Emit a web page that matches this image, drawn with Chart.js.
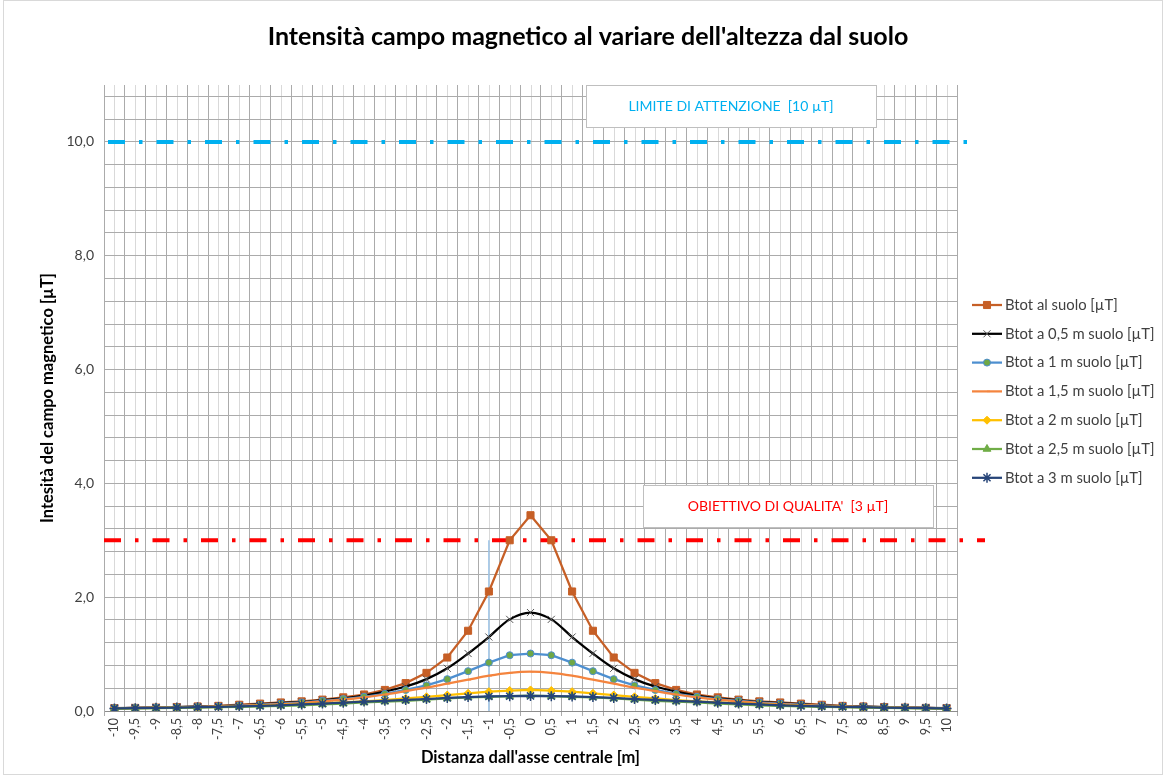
<!DOCTYPE html>
<html>
<head>
<meta charset="utf-8">
<script src="https://cdn.jsdelivr.net/npm/chart.js@4.4.0/dist/chart.umd.min.js"></script>
<style>
  html, body { margin: 0; padding: 0; background: #fff; }
  #wrap { width: 1164px; height: 775px; }
</style>
</head>
<body>
<div id="wrap"><canvas id="campo-canvas" width="1164" height="775"></canvas></div>
<script>
// Distanza dall'asse centrale [m]
const distanze = ["-10","-9,5","-9","-8,5","-8","-7,5","-7","-6,5","-6","-5,5","-5","-4,5","-4","-3,5","-3","-2,5","-2","-1,5","-1","-0,5","0",
  "0,5","1","1,5","2","2,5","3","3,5","4","4,5","5","5,5","6","6,5","7","7,5","8","8,5","9","9,5","10"]

// Btot [µT] per altezza dal suolo
const btotSuolo = [0.05,0.055,0.06,0.07,0.08,0.09,0.11,0.13,0.15,0.17,0.20,0.24,0.29,0.37,0.49,0.67,0.94,1.41,2.10,3.00,3.44,
  3.00,2.10,1.41,0.94,0.67,0.49,0.37,0.29,0.24,0.20,0.17,0.15,0.13,0.11,0.09,0.08,0.07,0.06,0.055,0.05]
const btot05 = [0.05,0.055,0.06,0.068,0.075,0.085,0.10,0.12,0.14,0.16,0.19,0.22,0.27,0.34,0.43,0.56,0.75,1.01,1.30,1.61,1.73,
  1.61,1.30,1.01,0.75,0.56,0.43,0.34,0.27,0.22,0.19,0.16,0.14,0.12,0.10,0.085,0.075,0.068,0.06,0.055,0.05]
const btot1 = [0.05,0.055,0.06,0.066,0.073,0.082,0.095,0.11,0.13,0.15,0.18,0.21,0.25,0.30,0.37,0.45,0.56,0.70,0.85,0.98,1.01,
  0.98,0.85,0.70,0.56,0.45,0.37,0.30,0.25,0.21,0.18,0.15,0.13,0.11,0.095,0.082,0.073,0.066,0.06,0.055,0.05]
const btot15 = [0.05,0.054,0.058,0.064,0.07,0.08,0.09,0.105,0.12,0.14,0.17,0.20,0.24,0.29,0.35,0.41,0.48,0.55,0.62,0.67,0.69,
  0.67,0.62,0.55,0.48,0.41,0.35,0.29,0.24,0.20,0.17,0.14,0.12,0.105,0.09,0.08,0.07,0.064,0.058,0.054,0.05]
const btot2 = [0.045,0.05,0.054,0.06,0.066,0.074,0.083,0.093,0.105,0.12,0.135,0.15,0.17,0.19,0.22,0.25,0.28,0.31,0.34,0.36,0.37,
  0.36,0.34,0.31,0.28,0.25,0.22,0.19,0.17,0.15,0.135,0.12,0.105,0.093,0.083,0.074,0.066,0.06,0.054,0.05,0.045]
const btot25 = [0.04,0.045,0.05,0.055,0.06,0.066,0.074,0.083,0.092,0.10,0.115,0.13,0.15,0.165,0.18,0.20,0.22,0.24,0.25,0.26,0.27,
  0.26,0.25,0.24,0.22,0.20,0.18,0.165,0.15,0.13,0.115,0.10,0.092,0.083,0.074,0.066,0.06,0.055,0.05,0.045,0.04]
const btot3 = [0.045,0.05,0.055,0.06,0.066,0.072,0.08,0.09,0.10,0.115,0.13,0.145,0.165,0.18,0.195,0.21,0.23,0.245,0.255,0.26,0.265,
  0.26,0.255,0.245,0.23,0.21,0.195,0.18,0.165,0.145,0.13,0.115,0.10,0.09,0.08,0.072,0.066,0.06,0.055,0.05,0.045]

// soglie [µT]
const limiteAttenzione = 10
const obiettivoQualita = 3

const FONT = "Lato, 'Open Sans', sans-serif"

function serie(label, data, color, extra) {
  return Object.assign({
    label: label,
    data: data,
    borderColor: color,
    backgroundColor: color,
    pointBackgroundColor: color,
    pointBorderColor: color,
    borderWidth: 2.25,
    pointRadius: 4,
    pointBorderWidth: 1,
    tension: 0,
  }, extra)
}

const datasets = [
  serie("Btot al suolo [µT]", btotSuolo, "#C65F26", { pointStyle: "rect", pointRadius: 5, order: 7 }),
  serie("Btot a 0,5 m suolo [µT]", btot05, "#000000", { pointStyle: "crossRot", pointRadius: 5, pointBorderColor: "#555555", tension: 0.35, order: 6 }),
  serie("Btot a 1 m suolo [µT]", btot1, "#4D8FD0", { pointStyle: "circle", pointRadius: 3.5, pointBackgroundColor: "#6FA845", pointBorderColor: "#4D8FD0", order: 5 }),
  serie("Btot a 1,5 m suolo [µT]", btot15, "#F4843E", { pointStyle: "dash", pointRadius: 3, pointBorderWidth: 1.5, tension: 0.35, order: 4 }),
  serie("Btot a 2 m suolo [µT]", btot2, "#FFC000", { pointStyle: "rectRot", pointRadius: 4, order: 3 }),
  serie("Btot a 2,5 m suolo [µT]", btot25, "#70AD47", { pointStyle: "triangle", pointRadius: 4.5, order: 2 }),
  serie("Btot a 3 m suolo [µT]", btot3, "#264478", { pointStyle: "star", pointRadius: 5, pointBorderWidth: 1.5, order: 1 }),
]

function dashLine(ctx, x0, x1, y, color, width) {
  ctx.save()
  ctx.strokeStyle = color
  ctx.lineWidth = width
  ctx.setLineDash([17, 14, 3.5, 14])
  ctx.beginPath()
  ctx.moveTo(x0, y)
  ctx.lineTo(x1, y)
  ctx.stroke()
  ctx.restore()
}

function textBox(ctx, x, y, w, h, text, color) {
  ctx.save()
  ctx.fillStyle = "#ffffff"
  ctx.fillRect(x, y, w, h)
  ctx.strokeStyle = "#BFBFBF"
  ctx.lineWidth = 1
  ctx.strokeRect(x + 0.5, y + 0.5, w, h)
  ctx.fillStyle = color
  ctx.font = "14px " + FONT
  ctx.textAlign = "center"
  ctx.textBaseline = "middle"
  ctx.fillText(text, x + w / 2, y + h / 2)
  ctx.restore()
}

const decorazioni = {
  id: "decorazioni",
  beforeDraw(chart) {
    const { ctx, chartArea, scales } = chart
    ctx.save()
    ctx.fillStyle = "#ffffff"
    ctx.fillRect(0, 0, chart.width, chart.height)
    // griglia secondaria verticale al centro delle categorie
    ctx.strokeStyle = "#D9D9D9"
    ctx.lineWidth = 1
    for (let i = 0; i < distanze.length; i++) {
      const x = Math.round(scales.x.getPixelForTick(i)) + 0.5
      ctx.beginPath()
      ctx.moveTo(x, chartArea.top)
      ctx.lineTo(x, chartArea.bottom)
      ctx.stroke()
    }
    ctx.restore()
  },
  beforeDatasetsDraw(chart) {
    const { ctx, chartArea, scales } = chart
    const y10 = scales.y.getPixelForValue(limiteAttenzione)
    const y3 = scales.y.getPixelForValue(obiettivoQualita)
    dashLine(ctx, chartArea.left + 4, chartArea.right + 10, y10, "#00B0F0", 4)
    dashLine(ctx, chartArea.left, chartArea.right + 28, y3, "#FF0000", 4)
    // linea verticale sottile a -1 m
    const xm1 = scales.x.getPixelForValue(distanze.indexOf("-1"))
    ctx.save()
    ctx.strokeStyle = "#9DC3E6"
    ctx.lineWidth = 1.5
    ctx.beginPath()
    ctx.moveTo(xm1, y3)
    ctx.lineTo(xm1, scales.y.getPixelForValue(0))
    ctx.stroke()
    ctx.restore()
    textBox(ctx, 586, 85, 290, 42, "LIMITE DI ATTENZIONE  [10 µT]", "#00B0F0")
    textBox(ctx, 643, 485, 290, 42, "OBIETTIVO DI QUALITA'  [3 µT]", "#FF0000")
  },
  afterDraw(chart) {
    const ctx = chart.ctx
    ctx.save()
    // titolo
    ctx.fillStyle = "#000000"
    ctx.font = "bold 25px " + FONT
    ctx.textAlign = "center"
    ctx.textBaseline = "middle"
    ctx.fillText("Intensità campo magnetico al variare dell'altezza dal suolo", 588, 37)
    // legenda
    const x0 = 972
    let y = 305
    const helpers = Chart.helpers
    chart.data.datasets.forEach((ds) => {
      ctx.strokeStyle = ds.borderColor
      ctx.lineWidth = 2.25
      ctx.beginPath()
      ctx.moveTo(x0, y)
      ctx.lineTo(x0 + 30, y)
      ctx.stroke()
      ctx.fillStyle = ds.pointBackgroundColor
      ctx.strokeStyle = ds.pointBorderColor
      ctx.lineWidth = ds.pointBorderWidth
      if (helpers && helpers.drawPoint) {
        helpers.drawPoint(ctx, { pointStyle: ds.pointStyle, radius: ds.pointRadius, borderWidth: ds.pointBorderWidth, rotation: 0 }, x0 + 15, y)
      }
      ctx.fillStyle = "#404040"
      ctx.font = "14.8px " + FONT
      ctx.textAlign = "left"
      ctx.fillText(ds.label, x0 + 33, y)
      y += 28.8
    })
    // bordo grafico
    ctx.strokeStyle = "#D9D9D9"
    ctx.lineWidth = 1
    ctx.strokeRect(3.5, 0.5, chart.width - 5, chart.height - 1)
    ctx.restore()
  },
}

const canvas = document.getElementById("campo-canvas")
new Chart(canvas, {
  type: "line",
  data: { labels: distanze, datasets: datasets },
  options: {
    responsive: false,
    animation: false,
    layout: { padding: { left: 34, right: 207, top: 85, bottom: 4 } },
    plugins: {
      legend: { display: false },
      title: { display: false },
      tooltip: { enabled: false },
    },
    scales: {
      x: {
        offset: true,
        grid: { offset: true, color: "#ABABAB", tickLength: 5, tickColor: "#ABABAB" },
        border: { color: "#8C8C8C" },
        ticks: {
          autoSkip: false, minRotation: 90, maxRotation: 90, padding: 2,
          color: "#404040", font: { family: FONT, size: 12.5 },
        },
        title: {
          display: true, text: "Distanza dall'asse centrale [m]", color: "#000000",
          font: { family: FONT, size: 16.5, weight: "bold" }, padding: { top: 4, bottom: 3 },
        },
        afterFit(scale) { scale.height = 60 },
      },
      y: {
        min: 0,
        max: 11,
        grid: { color: "#ABABAB", drawTicks: false },
        border: { color: "#ABABAB" },
        ticks: {
          stepSize: 0.4, includeBounds: false, padding: 10,
          color: "#404040", font: { family: FONT, size: 14 },
          callback(value) {
            const r = value / 2
            if (Math.abs(r - Math.round(r)) > 1e-6) return ""
            return value.toFixed(1).replace(".", ",")
          },
        },
        title: {
          display: true, text: "Intesità del campo magnetico [µT]", color: "#000000",
          font: { family: FONT, size: 16.5, weight: "bold" }, padding: { top: 4, bottom: 4 },
        },
        afterFit(scale) { scale.width = 70 },
      },
    },
  },
  plugins: [decorazioni],
})
</script>
</body>
</html>
